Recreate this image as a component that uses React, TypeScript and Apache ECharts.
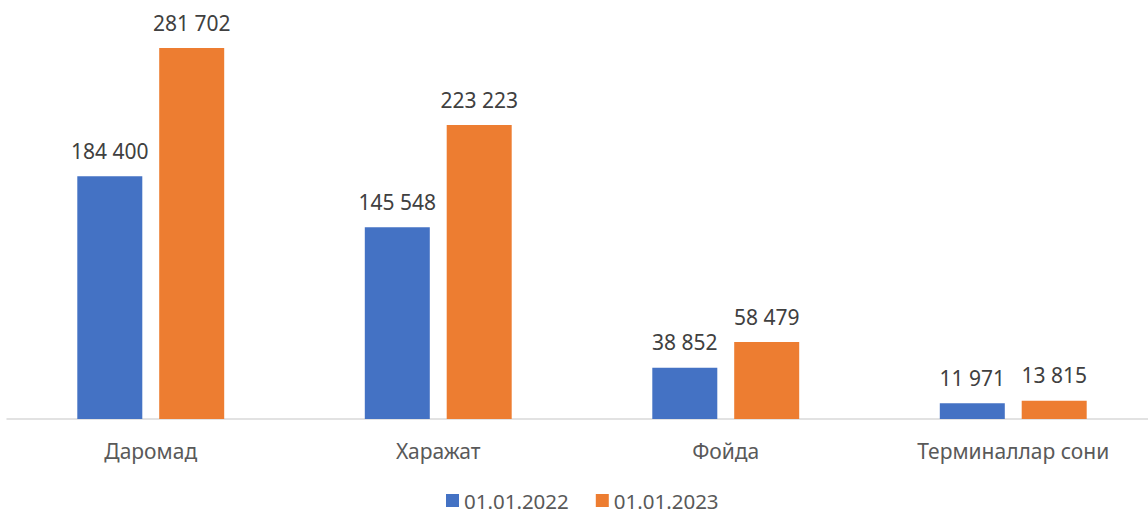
import React, { useEffect, useRef } from "react";
import * as echarts from "echarts";

const categories = ["Даромад", "Харажат", "Фойда", "Терминаллар сони"];
const series2022 = [184400, 145548, 38852, 11971];
const series2023 = [281702, 223223, 58479, 13815];
const seriesNames = ["01.01.2022", "01.01.2023"];

const fmt = (v: number) => String(v).replace(/\B(?=(\d{3})+(?!\d))/g, " ");

export default function App() {
  const ref = useRef<HTMLDivElement>(null);
  useEffect(() => {
    document.body.style.margin = "0";
    const chart = echarts.init(ref.current!, undefined, { renderer: "svg" });
    const font = "'Noto Sans', 'Open Sans', sans-serif";
    const label = {
      show: true,
      position: "top" as const,
      distance: 15,
      fontSize: 21,
      fontFamily: font,
      color: "#404040",
      formatter: (p: any) => fmt(p.value),
    };
    chart.setOption({
      animation: false,
      backgroundColor: "#ffffff",
      legend: {
        data: seriesNames,
        top: 490,
        left: 446,
        padding: 0,
        itemWidth: 13,
        itemHeight: 13,
        itemGap: 27,
        icon: "rect",
        textStyle: { fontSize: 20.5, lineHeight: 20, fontFamily: font, color: "#595959" },
      },
      grid: {
        left: 7,
        width: 1150,
        top: 24,
        bottom: 93,
        containLabel: false,
        outerBoundsMode: "none",
      },
      xAxis: {
        type: "category",
        data: categories,
        axisLine: { lineStyle: { color: "#d9d9d9", width: 1.5 } },
        axisTick: { show: false },
        axisLabel: { fontSize: 21, fontFamily: font, color: "#595959", margin: 21 },
      },
      yAxis: {
        type: "value",
        min: 0,
        max: 300000,
        show: false,
        splitLine: { show: false },
      },
      series: [
        {
          name: seriesNames[0],
          type: "bar",
          data: series2022,
          barWidth: 65,
          barGap: "26%",
          itemStyle: { color: "#4472C4" },
          label,
        },
        {
          name: seriesNames[1],
          type: "bar",
          data: series2023,
          barWidth: 65,
          itemStyle: { color: "#ED7D31" },
          label,
        },
      ],
    });
    return () => chart.dispose();
  }, []);
  return <div ref={ref} style={{ width: 1148, height: 512 }} />;
}
